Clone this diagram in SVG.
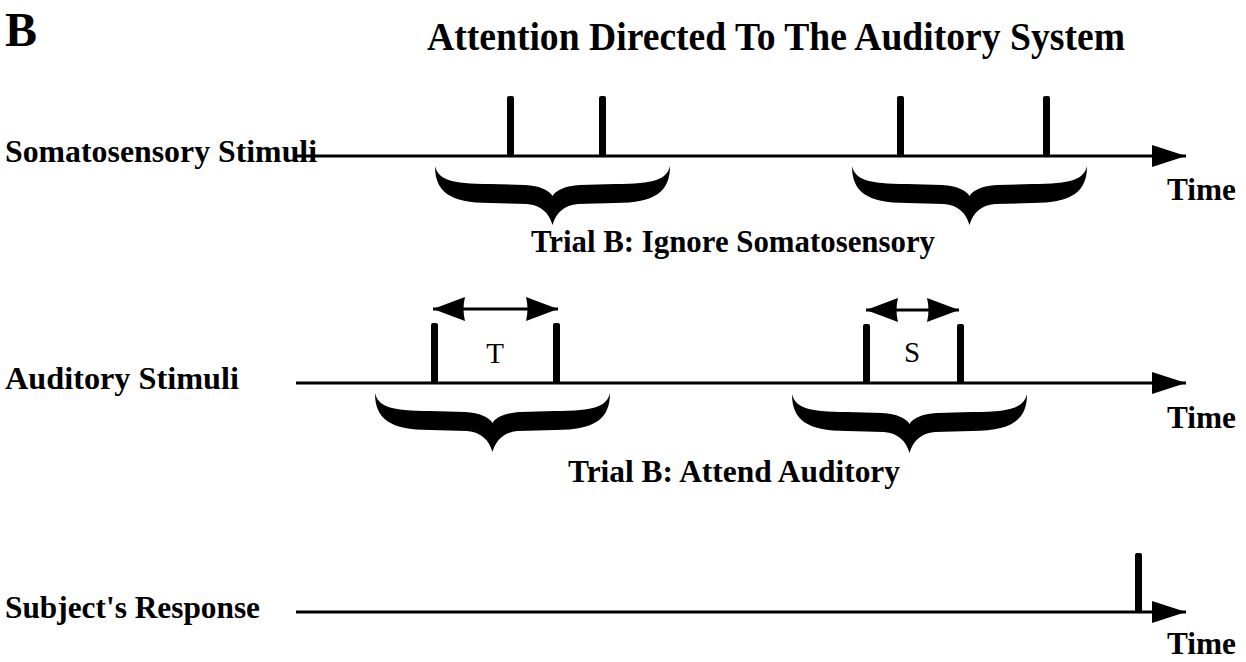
<svg xmlns="http://www.w3.org/2000/svg" width="1246" height="662" viewBox="0 0 1246 662">
<style>
  text { font-family: "Liberation Serif", "DejaVu Serif", serif; fill: #000; }
  .lbl { font-size: 32px; font-weight: bold; }
  .trial { font-size: 31px; font-weight: bold; }
  .axis { stroke: #000; stroke-width: 3; fill: none; }
  .spike { fill: #000; }
  .dbl { stroke: #000; stroke-width: 3; }
</style>
<defs>
  <path id="brace" d="M0,0 C0,25 14,37 55,37 L92,38 C106,39 114,47 117.5,59 C121,47 129,39 143,38 L180,37 C221,37 235,25 235,0 C232,13 220,18 180,18 L145,19 C130,20 121,24 117.5,30 C114,24 105,20 90,19 L55,18 C15,18 3,13 0,0 Z" fill="#000"/>
  <marker id="ah" viewBox="0 0 34 22" refX="34" refY="11" markerWidth="34" markerHeight="22" markerUnits="userSpaceOnUse" orient="auto-start-reverse">
    <path d="M0,0 L34,11 L0,22 Z" fill="#000"/>
  </marker>
  <marker id="dh" viewBox="0 0 32 24" refX="32" refY="12" markerWidth="32" markerHeight="24" markerUnits="userSpaceOnUse" orient="auto-start-reverse">
    <path d="M0,0 L32,12 L0,24 Q3,12 0,0 Z" fill="#000"/>
  </marker>
</defs>

<g id="panel-label"><text x="5" y="46" style="font-size:48px;font-weight:bold">B</text></g>
<g id="title"><text x="427" y="50" style="font-size:40px;font-weight:bold" textLength="698" lengthAdjust="spacingAndGlyphs">Attention Directed To The Auditory System</text></g>

<g id="connectors">
  <line class="axis" x1="296" y1="156" x2="1186" y2="156" marker-end="url(#ah)"/>
  <line class="axis" x1="296" y1="383" x2="1186" y2="383" marker-end="url(#ah)"/>
  <line class="axis" x1="296" y1="612" x2="1186" y2="612" marker-end="url(#ah)"/>
  <line class="dbl" x1="433" y1="309" x2="558" y2="309" marker-start="url(#dh)" marker-end="url(#dh)"/>
  <line class="dbl" x1="866" y1="310" x2="959" y2="310" marker-start="url(#dh)" marker-end="url(#dh)"/>
</g>

<g id="somatosensory">
  <text class="lbl" x="5" y="162" textLength="312" lengthAdjust="spacingAndGlyphs">Somatosensory Stimuli</text>
  <rect class="spike" x="507" y="96" width="7" height="60" rx="2"/>
  <rect class="spike" x="599" y="96" width="7" height="60" rx="2"/>
  <rect class="spike" x="897" y="96" width="7" height="60" rx="2"/>
  <rect class="spike" x="1043" y="96" width="7" height="60" rx="2"/>
  <use href="#brace" x="435" y="166"/>
  <use href="#brace" x="852" y="166"/>
  <text class="lbl" x="1167" y="200" textLength="69" lengthAdjust="spacingAndGlyphs">Time</text>
  <text class="trial" x="531" y="252" textLength="404" lengthAdjust="spacingAndGlyphs">Trial B: Ignore Somatosensory</text>
</g>

<g id="auditory">
  <text class="lbl" x="5" y="389" textLength="234" lengthAdjust="spacingAndGlyphs">Auditory Stimuli</text>
  <rect class="spike" x="431" y="323" width="7" height="60" rx="2"/>
  <rect class="spike" x="553" y="323" width="7" height="60" rx="2"/>
  <rect class="spike" x="863" y="324" width="7" height="59" rx="2"/>
  <rect class="spike" x="957" y="324" width="7" height="59" rx="2"/>
  <text x="495" y="363" style="font-size:29px" text-anchor="middle">T</text>
  <text x="912" y="362" style="font-size:29px" text-anchor="middle">S</text>
  <use href="#brace" x="375" y="393"/>
  <use href="#brace" x="792" y="394"/>
  <text class="lbl" x="1167" y="428" textLength="69" lengthAdjust="spacingAndGlyphs">Time</text>
  <text class="trial" x="568" y="482" textLength="332" lengthAdjust="spacingAndGlyphs">Trial B: Attend Auditory</text>
</g>

<g id="response">
  <text class="lbl" x="5" y="618" textLength="255" lengthAdjust="spacingAndGlyphs">Subject's Response</text>
  <rect class="spike" x="1135" y="553" width="7" height="59" rx="2"/>
  <text class="lbl" x="1167" y="654" textLength="69" lengthAdjust="spacingAndGlyphs">Time</text>
</g>
</svg>
